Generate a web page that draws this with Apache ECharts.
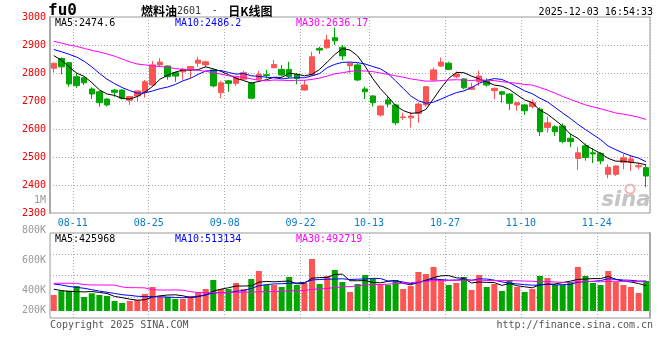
<!DOCTYPE html>
<html><head><meta charset="utf-8">
<script src="https://cdn.jsdelivr.net/npm/echarts@6/dist/echarts.min.js"></script>
<style>html,body{margin:0;padding:0;background:#fff}#c{width:660px;height:360px}</style>
</head><body><div id="c"></div>
<script>
const dates = ['08-07','08-08','08-11','08-12','08-13','08-14','08-15','08-18','08-19','08-20','08-21','08-22','08-25','08-26','08-27','08-28','08-29','09-01','09-02','09-03','09-04','09-05','09-08','09-09','09-10','09-11','09-12','09-15','09-16','09-17','09-18','09-19','09-22','09-23','09-24','09-25','09-26','09-29','09-30','10-09','10-10','10-13','10-14','10-15','10-16','10-17','10-20','10-21','10-22','10-23','10-24','10-27','10-28','10-29','10-30','10-31','11-03','11-04','11-05','11-06','11-07','11-10','11-11','11-12','11-13','11-14','11-17','11-18','11-19','11-20','11-21','11-24','11-25','11-26','11-27','11-28','12-01','12-02','12-03'];
const tickLabels = ['08-11','08-25','09-08','09-22','10-13','10-27','11-10','11-24'];

const opens = [2817,2852,2837,2787,2783,2743,2733,2707,2739,2739,
2703,2718,2733,2757,2829,2825,2801,2804,2815,2835,
2829,2811,2730,2772,2763,2778,2763,2778,2794,2819,
2813,2813,2795,2739,2793,2888,2890,2926,2892,2826,
2829,2743,2718,2650,2704,2686,2641,2640,2656,2686,
2775,2825,2835,2787,2779,2742,2769,2771,2737,2733,
2725,2686,2686,2680,2671,2605,2608,2611,2567,2495,
2540,2515,2513,2438,2438,2481,2481,2465,2462];
const closes = [2835,2822,2761,2755,2765,2725,2694,2686,2731,2710,
2716,2736,2769,2829,2839,2787,2789,2813,2823,2846,
2840,2754,2765,2763,2783,2801,2710,2795,2791,2830,
2793,2787,2781,2757,2858,2882,2918,2915,2861,2835,
2775,2733,2694,2682,2689,2622,2643,2646,2689,2751,
2811,2839,2813,2796,2747,2749,2789,2757,2745,2724,
2692,2694,2665,2694,2590,2622,2590,2555,2555,2515,
2498,2511,2486,2463,2468,2497,2493,2469,2432];
const lows = [2802,2795,2751,2747,2757,2707,2680,2680,2715,2706,
2686,2698,2712,2751,2822,2776,2769,2776,2781,2822,
2820,2749,2710,2733,2754,2775,2706,2776,2781,2817,
2787,2781,2760,2737,2789,2868,2887,2900,2846,2799,
2771,2707,2680,2644,2678,2614,2632,2605,2622,2680,
2771,2822,2810,2781,2742,2739,2754,2751,2706,2694,
2668,2665,2650,2674,2575,2587,2575,2549,2535,2454,
2487,2478,2474,2424,2432,2456,2450,2456,2392];
const highs = [2837,2855,2839,2801,2786,2749,2737,2710,2743,2742,
2718,2738,2775,2843,2853,2826,2805,2819,2825,2858,
2844,2813,2772,2775,2787,2808,2768,2807,2811,2846,
2829,2840,2799,2775,2876,2894,2936,2962,2900,2836,
2835,2751,2721,2683,2718,2689,2658,2662,2695,2752,
2820,2855,2840,2805,2781,2765,2808,2781,2748,2737,
2727,2697,2689,2706,2677,2644,2614,2620,2582,2535,
2549,2531,2517,2474,2469,2511,2504,2480,2471];
const ma5 = [2862,2846,2822,2800,2788,2766,2740,2725,2720,2709,
2707,2716,2732,2752,2778,2792,2803,2811,2810,2812,
2822,2815,2806,2794,2781,2773,2764,2770,2776,2785,
2784,2799,2796,2790,2795,2813,2839,2866,2887,2882,
2861,2824,2780,2744,2715,2684,2666,2656,2658,2670,
2708,2747,2781,2802,2801,2789,2779,2768,2757,2753,
2741,2722,2704,2694,2667,2653,2632,2610,2582,2567,
2543,2527,2513,2495,2485,2485,2481,2478,2472];
const ma10 = [2884,2876,2867,2857,2842,2822,2799,2778,2762,2748,
2737,2728,2729,2736,2744,2750,2759,2772,2781,2795,
2807,2809,2809,2802,2796,2798,2790,2788,2785,2783,
2779,2782,2783,2783,2790,2798,2819,2831,2838,2839,
2837,2832,2823,2815,2798,2772,2745,2718,2701,2692,
2696,2707,2719,2730,2736,2748,2763,2774,2780,2777,
2765,2751,2736,2726,2710,2697,2677,2657,2638,2617,
2598,2580,2562,2539,2526,2514,2504,2496,2483];
const ma30 = [2913,2907,2900,2895,2888,2881,2875,2868,2860,2850,
2840,2832,2829,2826,2823,2820,2816,2813,2812,2810,
2806,2801,2796,2790,2788,2784,2779,2774,2772,2775,
2774,2773,2774,2774,2777,2782,2789,2797,2801,2806,
2808,2807,2805,2800,2795,2790,2785,2779,2775,2771,
2771,2773,2775,2776,2775,2773,2776,2774,2773,2769,
2766,2763,2759,2757,2748,2739,2728,2716,2706,2696,
2686,2679,2672,2665,2657,2653,2648,2642,2634];

const volumes = [274000,347000,347000,428000,239000,303000,274000,257000,171000,137000,
171000,188000,291000,410000,239000,239000,205000,205000,257000,325000,
376000,530000,376000,376000,479000,376000,547000,684000,445000,445000,
410000,581000,445000,479000,889000,462000,599000,701000,496000,325000,
462000,616000,547000,462000,445000,530000,376000,428000,667000,633000,
752000,530000,445000,479000,581000,359000,616000,410000,462000,342000,
530000,410000,325000,376000,599000,564000,445000,445000,496000,752000,
599000,479000,445000,684000,496000,445000,410000,308000,513000];
const volMa5 = [371000,350000,335000,330000,327000,333000,318000,300000,249000,228000,
202000,185000,192000,239000,260000,273000,277000,260000,229000,246000,
274000,339000,373000,397000,427000,427000,431000,492000,506000,499000,
506000,513000,465000,472000,561000,571000,575000,626000,629000,517000,
517000,520000,489000,482000,506000,520000,472000,448000,489000,527000,
571000,602000,605000,568000,557000,479000,496000,489000,486000,438000,
472000,431000,414000,397000,448000,455000,462000,486000,510000,540000,
547000,554000,554000,592000,541000,510000,496000,469000,434000];
const volMa10 = [462000,445000,420000,405000,388000,365000,340000,320000,300000,278000,
267000,252000,246000,244000,244000,238000,231000,226000,234000,253000,
274000,308000,316000,313000,337000,351000,385000,433000,451000,463000,
467000,472000,479000,489000,530000,539000,544000,546000,551000,539000,
544000,547000,558000,556000,512000,518000,496000,469000,486000,517000,
546000,537000,527000,529000,542000,525000,549000,547000,527000,498000,
475000,463000,451000,441000,443000,463000,446000,450000,453000,494000,
501000,508000,520000,551000,541000,529000,525000,511000,513000];
const volMa30 = [474000,474000,474000,472000,452000,445000,445000,445000,443000,410000,
399000,399000,395000,365000,359000,359000,359000,356000,330000,315000,
313000,313000,313000,316000,319000,322000,325000,328000,330000,331000,
336000,344000,347000,349000,370000,376000,386000,401000,412000,418000,
428000,442000,451000,453000,459000,469000,475000,482000,496000,506000,
519000,519000,521000,525000,528000,527000,530000,521000,521000,518000,
522000,516000,512000,509000,499000,502000,497000,489000,489000,503000,
507000,503000,499000,507000,509000,506000,507000,503000,498000];

const priceTickLabels = ['2300','2400','2500','2600','2700','2800','2900','3000'];
const volTickLabels = ['200K','400K','600K','800K','1M'];
const priceMaText = ['MA5:2474.6','MA10:2486.2','MA30:2636.17'];
const volMaText = ['MA5:425968','MA10:513134','MA30:492719'];

const MONO = '"DejaVu Sans Mono", "Liberation Mono", monospace';
const UP = '#ff5454', DOWN = '#00a600';
const GRIDC = '#aaaaaa';
const dash = [1, 2];
const maColors = ['#000000', '#0000ff', '#ff00ff'];

const chart = echarts.init(document.getElementById('c'), null, {renderer: 'canvas'});

function isLine(idx) { return idx > 0 && tickLabels.indexOf(dates[idx - 1]) >= 0; }

const candleData = dates.map((d, i) => [opens[i], closes[i], lows[i], highs[i]]);
const volData = volumes.map((v, i) => ({value: v, itemStyle: {color: closes[i] >= opens[i] ? UP : DOWN}}));

function txt(text, x, y, fill, align, font) {
  return {type: 'text', silent: true, z: 10, style: {text, x, y, fill, font: font || ('10px ' + MONO), align: align || 'left', verticalAlign: 'middle', textAlign: align || 'left', textVerticalAlign: 'middle'}};
}

const option = {
  animation: false,
  backgroundColor: '#fff',
  grid: [
    {left: 50, top: 17, width: 600, height: 196, show: true, borderColor: '#999', borderWidth: 1, backgroundColor: 'transparent'},
    {left: 50, top: 233, width: 600, height: 85, show: true, borderColor: '#999', borderWidth: 1, backgroundColor: 'transparent'},
    {left: 50, top: 200, width: 600, height: 120, show: false}
  ],
  xAxis: [
    {type: 'category', gridIndex: 0, data: dates, boundaryGap: true,
     axisLine: {show: false}, axisTick: {show: false},
     axisLabel: {show: true, interval: (i, v) => tickLabels.indexOf(v) >= 0, margin: 5,
       formatter: v => '{d|' + v + '}',
       rich: {d: {color: '#0a7ccc', fontSize: 10, fontFamily: MONO, padding: [0, 0, 0, 7.6]}}},
     splitLine: {show: true, interval: (i) => isLine(i), lineStyle: {color: GRIDC, type: dash, width: 1}}},
    {type: 'category', gridIndex: 1, data: dates, boundaryGap: true,
     axisLine: {show: false}, axisTick: {show: false}, axisLabel: {show: false},
     splitLine: {show: true, interval: (i) => isLine(i), lineStyle: {color: GRIDC, type: dash, width: 1}}},
    {type: 'category', gridIndex: 2, data: dates, show: false}
  ],
  yAxis: [
    {type: 'value', gridIndex: 0, min: 2300, max: 3000, interval: 100, position: 'left',
     axisLine: {show: true, lineStyle: {color: '#aaa', width: 2}}, axisTick: {show: false},
     axisLabel: {color: '#ee0000', fontSize: 10, fontFamily: MONO, margin: 4,
       formatter: v => priceTickLabels[Math.round((v - 2300) / 100)]},
     splitLine: {show: true, showMinLine: false, showMaxLine: false, lineStyle: {color: GRIDC, type: dash, width: 1}}},
    {type: 'value', gridIndex: 1, min: -120000, max: 1334000, show: false, splitLine: {show: false}},
    {type: 'value', gridIndex: 1, min: 0, max: 84, interval: 21,
     axisLine: {show: true, lineStyle: {color: '#aaa', width: 2}}, axisTick: {show: false}, axisLabel: {show: false},
     splitLine: {show: true, showMinLine: false, showMaxLine: false, lineStyle: {color: GRIDC, type: dash, width: 1}}},
    {type: 'value', gridIndex: 2, min: 200000, max: 1000000, interval: 200000,
     axisLine: {show: false}, axisTick: {show: false}, splitLine: {show: false},
     axisLabel: {margin: 4, color: '#999', fontSize: 10, fontFamily: MONO,
       formatter: v => {
         const s = volTickLabels[Math.round(v / 200000) - 1];
         return v === 200000 ? '{u|' + s + '}' : '{n|' + s + '}';
       },
       rich: {u: {color: '#999', fontSize: 10, fontFamily: MONO, padding: [0, 0, 20, 0]},
              n: {color: '#999', fontSize: 10, fontFamily: MONO}}}}
  ],
  series: [
    {type: 'candlestick', xAxisIndex: 0, yAxisIndex: 0, data: candleData, barWidth: 6,
     itemStyle: {color: UP, color0: DOWN, borderColor: UP, borderColor0: DOWN, borderWidth: 1}, silent: true},
    {type: 'line', xAxisIndex: 0, yAxisIndex: 0, data: ma5, symbol: 'none', lineStyle: {color: maColors[0], width: 1}, silent: true, z: 3},
    {type: 'line', xAxisIndex: 0, yAxisIndex: 0, data: ma10, symbol: 'none', lineStyle: {color: maColors[1], width: 1}, silent: true, z: 3},
    {type: 'line', xAxisIndex: 0, yAxisIndex: 0, data: ma30, symbol: 'none', lineStyle: {color: maColors[2], width: 1}, silent: true, z: 3},
    {type: 'bar', xAxisIndex: 1, yAxisIndex: 1, data: volData, barWidth: 6, silent: true},
    {type: 'line', xAxisIndex: 1, yAxisIndex: 1, data: volMa5, symbol: 'none', lineStyle: {color: maColors[0], width: 1}, silent: true, z: 3},
    {type: 'line', xAxisIndex: 1, yAxisIndex: 1, data: volMa10, symbol: 'none', lineStyle: {color: maColors[1], width: 1}, silent: true, z: 3},
    {type: 'line', xAxisIndex: 1, yAxisIndex: 1, data: volMa30, symbol: 'none', lineStyle: {color: maColors[2], width: 1}, silent: true, z: 3}
  ],
  graphic: [
    {type: 'text', silent: true, z: 0, style: {text: 'sina', x: 626, y: 201, fill: '#c4c4c4', font: 'italic bold 21px "DejaVu Sans", sans-serif', align: 'center', verticalAlign: 'middle', textAlign: 'center', textVerticalAlign: 'middle'}},
    {type: 'circle', silent: true, z: 0, shape: {cx: 630, cy: 189, r: 4.5}, style: {fill: 'none', stroke: '#f4b4b4', lineWidth: 2}},
    txt('fu0', 48, 11, '#000', 'left', 'bold 16px ' + MONO),
    {type: 'text', silent: true, z: 10, style: {
      text: '{a|燃料油}{b|2601}{c|  -  }{a|日K线图}', x: 141, y: 11, align: 'left', verticalAlign: 'middle', textAlign: 'left', textVerticalAlign: 'middle',
      rich: {a: {fontSize: 12, fontWeight: 'bold', fontFamily: '"Noto Sans CJK SC", sans-serif', fill: '#000', color: '#000'},
             b: {fontSize: 10, fontFamily: MONO, fill: '#333', color: '#333'},
             c: {fontSize: 9, fontFamily: MONO, fill: '#000', color: '#000'}}}},
    txt('2025-12-03 16:54:33', 653, 12, '#000', 'right'),
    txt(priceMaText[0], 55, 23, maColors[0]),
    txt(priceMaText[1], 175, 23, maColors[1]),
    txt(priceMaText[2], 296, 23, maColors[2]),
    txt(volMaText[0], 55, 239, maColors[0]),
    txt(volMaText[1], 175, 239, maColors[1]),
    txt(volMaText[2], 296, 239, maColors[2]),
    txt('Copyright 2025 SINA.COM', 50, 325, '#555'),
    txt('http://finance.sina.com.cn', 653, 325, '#555', 'right')
  ]
};
chart.setOption(option);
</script>
</body></html>
